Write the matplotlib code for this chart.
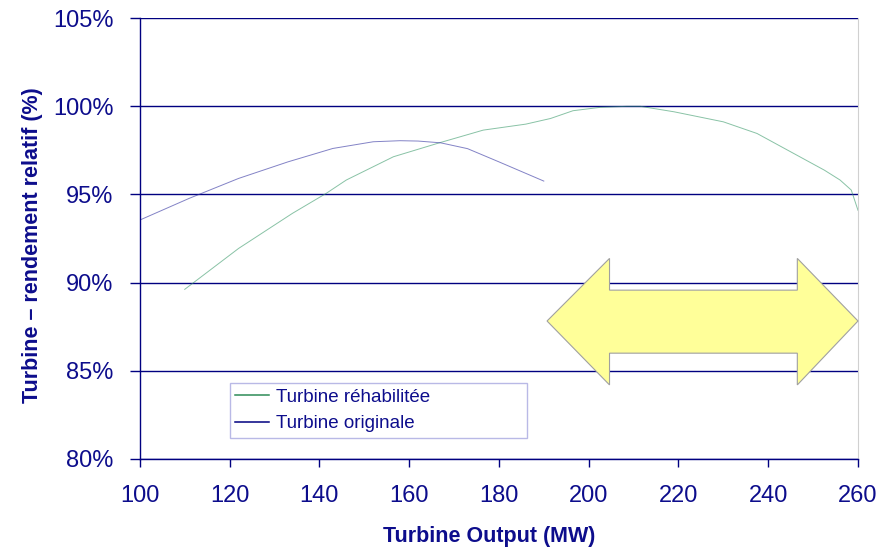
import matplotlib
matplotlib.use("Agg")
import matplotlib.pyplot as plt
from matplotlib.patches import Polygon
from matplotlib.ticker import FuncFormatter

plt.rcParams['font.family'] = ['Liberation Sans', 'DejaVu Sans']

# turbine originale
orig_mw = [100, 111, 122, 133, 143, 152, 158, 162, 167, 173, 180, 190]
orig_eff = [93.55, 94.78, 95.91, 96.85, 97.61, 97.99, 98.05, 98.03, 97.93, 97.6, 96.85, 95.76]

# turbine rehabilitee
rehab_mw = [110, 122, 134, 141.5, 146, 156.5, 167, 176.5, 186, 191.5, 196.5, 202.5,
            208.5, 211.5, 219, 230, 237.5, 245, 252.5, 256, 258.5, 260]
rehab_eff = [89.62, 91.94, 93.93, 95.06, 95.82, 97.14, 97.95, 98.65, 98.99, 99.31, 99.75, 99.94,
             100.0, 100.0, 99.69, 99.12, 98.46, 97.42, 96.38, 95.82, 95.25, 94.1]

navy = '#000080'
txt = '#0d0d8c'

fig = plt.figure(figsize=(8.85, 5.5), dpi=100)
ax = fig.add_axes([0.158, 0.1655, 0.8115, 0.8015])

ax.plot(rehab_mw, rehab_eff, color='#3a9a6a', lw=0.7, alpha=0.6, label='Turbine réhabilitée')
ax.plot(orig_mw, orig_eff, color='#3030a0', lw=0.7, alpha=0.6, label='Turbine originale')

# yellow double arrow (plage de fonctionnement)
arrow = [(0.567, 0.313), (0.654, 0.455), (0.654, 0.383), (0.9155, 0.383), (0.9155, 0.455),
         (1.0, 0.313), (0.9155, 0.168), (0.9155, 0.240), (0.654, 0.240), (0.654, 0.168)]
ax.add_patch(Polygon(arrow, closed=True, transform=ax.transAxes, facecolor='#ffff99',
                     edgecolor='#a0a0a0', lw=0.8, zorder=5, clip_on=False))

ax.set_xlim(100, 260)
ax.set_ylim(80, 105)
ax.set_xticks(range(100, 261, 20))
ax.set_yticks(range(80, 106, 5))
ax.yaxis.set_major_formatter(FuncFormatter(lambda v, p: '%d%%' % v))
ax.grid(axis='y', color=navy, lw=1.0)
ax.set_axisbelow(True)

for s in ['left', 'bottom']:
    ax.spines[s].set_color(navy)
    ax.spines[s].set_linewidth(1.0)
ax.spines['top'].set_visible(False)
ax.spines['right'].set_color('#d0d0d0')

ax.tick_params(axis='both', colors=navy, labelcolor=txt, labelsize=17, width=1.0)
ax.tick_params(axis='x', pad=13, length=6)
ax.tick_params(axis='y', pad=12, length=7)

ax.set_xlabel('Turbine Output (MW)', fontsize=15.5, fontweight='bold', color=txt)
ax.xaxis.set_label_coords(0.486, -0.153)
ax.set_ylabel('Turbine \u2013 rendement relatif (%)', fontsize=15.5, fontweight='bold', color=txt)
ax.yaxis.set_label_coords(-0.135, 0.485)

leg = ax.legend(loc='lower left', bbox_to_anchor=(0.125, 0.048, 0.414, 0.129), mode='expand',
                fontsize=13.5, frameon=True, fancybox=False, handlelength=1.8, handletextpad=0.35,
                labelspacing=0.5, borderpad=0.3, borderaxespad=0)
leg.get_frame().set_edgecolor('#a8a8e0')
leg.get_frame().set_linewidth(1.0)
for t in leg.get_texts():
    t.set_color(txt)
for h, c in zip(leg.legend_handles, ['#2e8b57', '#000080']):
    h.set_color(c)
    h.set_alpha(1)
    h.set_linewidth(1.1)

fig.savefig('out.png', dpi=100)
